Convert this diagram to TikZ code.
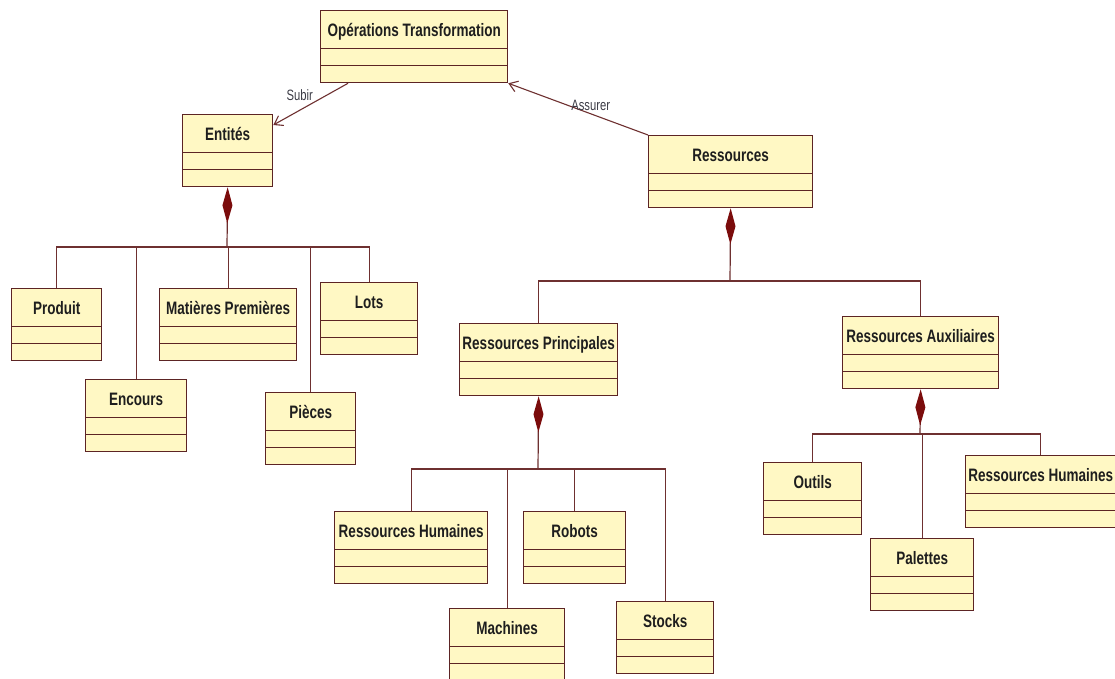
\documentclass[tikz,border=0pt]{standalone}
\usepackage{fontspec}
\newfontfamily\classfont[FakeStretch=0.75]{Liberation Sans}
\usetikzlibrary{arrows.meta, calc}
\definecolor{clsfill}{HTML}{FFF8C4}
\definecolor{clsborder}{HTML}{5C2424}
\definecolor{lnkbrown}{HTML}{6E3030}
\definecolor{dmdred}{HTML}{7B0C0C}
\definecolor{clstext}{HTML}{1E1E1E}
\definecolor{lbltext}{HTML}{3C3C46}

\begin{document}
\begin{tikzpicture}[x=1pt, y=-1pt,
  umlclass/.style={draw=clsborder, fill=clsfill, line width=1.3pt, anchor=north west,
    minimum width=90pt, minimum height=72pt, inner xsep=2pt, inner ysep=0pt,
    text height=26pt, text depth=46pt, text=clstext,
    font=\classfont\fontsize{18}{20}\bfseries\selectfont,
    path picture={\draw[clsborder, line width=1.2pt]
      ([yshift=-38pt]path picture bounding box.north west) -- ([yshift=-38pt]path picture bounding box.north east)
      ([yshift=-55pt]path picture bounding box.north west) -- ([yshift=-55pt]path picture bounding box.north east);}},
  assoc/.style={draw=lnkbrown, line width=1.1pt, -{Straight Barb[length=8pt, width=11pt]}},
  compo/.style={draw=lnkbrown, line width=1.2pt, {Diamond[length=36pt, width=10pt, color=dmdred, fill=dmdred]}-},
  link/.style={draw=lnkbrown, line width=1.2pt},
  lbl/.style={text=lbltext, font=\classfont\fontsize{15}{17}\selectfont, inner sep=1pt}]

% Background
\fill[white] (0,0) rectangle (1115,679);
\useasboundingbox (0,0) rectangle (1115,679);

% Top class
\node[umlclass, minimum width=187pt] (optrans) at (320,10) {Opérations Transformation};

% Entites and its parts
\node[umlclass] (entites) at (182,114) {Entités};
\node[umlclass] (produit) at (11,288) {Produit};
\node[umlclass, minimum width=101pt] (encours) at (85,379) {Encours};
\node[umlclass, minimum width=137pt] (matieres) at (159,288) {Matières Premières};
\node[umlclass] (pieces) at (265,392) {Pièces};
\node[umlclass, minimum width=97pt] (lots) at (320,282) {Lots};

% Ressources and its parts
\node[umlclass, minimum width=164pt] (ressources) at (648,135) {Ressources};
\node[umlclass, minimum width=158pt] (rprinc) at (459,323) {Ressources Principales};
\node[umlclass, minimum width=156pt] (raux) at (842,316) {Ressources Auxiliaires};

% Parts of Ressources Principales
\node[umlclass, minimum width=153pt] (rhprinc) at (334,511) {Ressources Humaines};
\node[umlclass, minimum width=102pt] (robots) at (523,511) {Robots};
\node[umlclass, minimum width=115pt] (machines) at (449,608) {Machines};
\node[umlclass, minimum width=97pt] (stocks) at (616,601) {Stocks};

% Parts of Ressources Auxiliaires
\node[umlclass, minimum width=98pt] (outils) at (763,462) {Outils};
\node[umlclass, minimum width=103pt] (palettes) at (870,538) {Palettes};
\node[umlclass, minimum width=150pt] (rhaux) at (965,455) {Ressources Humaines};

% Associations
\draw[assoc] ($(optrans.south west)+(28,0)$) -- ($(entites.north east)+(0,11)$)
  node[lbl, pos=0.45, anchor=south east] (subir) {Subir};
\draw[assoc] (ressources.north west) -- (optrans.south east)
  node[lbl, pos=0.41, anchor=south, yshift=2pt] (assurer) {Assurer};

% Composition: Entites
\coordinate (entbar) at (227,247);
\draw[compo] (entites.south) -- (entbar);
\draw[link] (entbar) -| (produit.north);
\draw[link] (entbar) -| (encours.north);
\draw[link] (entbar) -| (matieres.north);
\draw[link] (entbar) -| (pieces.north);
\draw[link] (entbar) -| (lots.north);

% Composition: Ressources
\coordinate (resbar) at (730,281);
\draw[compo] (ressources.south) -- (resbar);
\draw[link] (resbar) -| (rprinc.north);
\draw[link] (resbar) -| (raux.north);

% Composition: Ressources Principales
\coordinate (rpbar) at (538,469);
\draw[compo] (rprinc.south) -- (rpbar);
\draw[link] (rpbar) -| (rhprinc.north);
\draw[link] (rpbar) -| (robots.north);
\draw[link] (rpbar) -| (machines.north);
\draw[link] (rpbar) -| (stocks.north);

% Composition: Ressources Auxiliaires
\coordinate (rabar) at (920,434);
\draw[compo] (raux.south) -- (rabar);
\draw[link] (rabar) -| (outils.north);
\draw[link] (rabar) -| (palettes.north);
\draw[link] (rabar) -| (rhaux.north);

\end{tikzpicture}
\end{document}
